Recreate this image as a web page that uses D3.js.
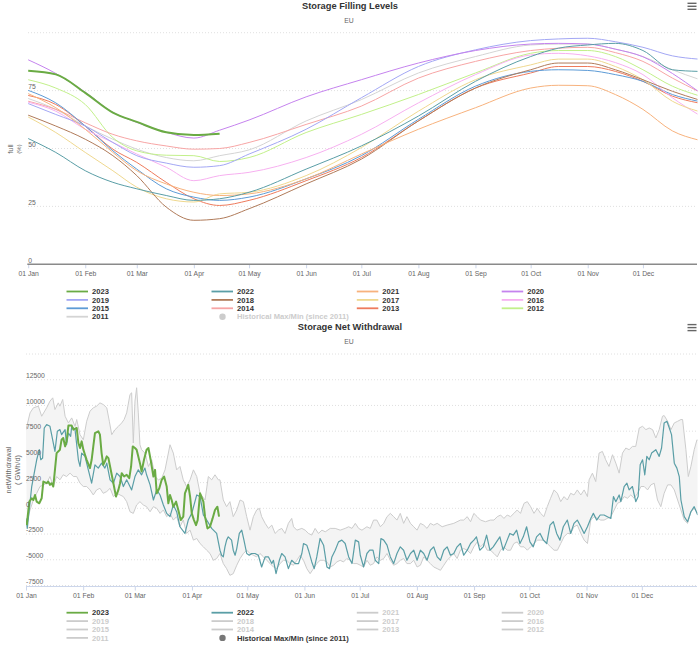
<!DOCTYPE html>
<html>
<head>
<meta charset="utf-8">
<script src="https://cdn.jsdelivr.net/npm/d3@7"></script>
<style>
  body { margin: 0; background: #fff; }
  svg { display: block; font-family: "Liberation Sans", Arial, sans-serif; }
</style>
</head>
<body>
<svg id="chart" width="700" height="645"></svg>
<script>
// ---- shared axis data ----
const monthTicks = [0, 31, 59, 90, 120, 151, 181, 212, 243, 273, 304, 334];
const monthLabels = ["01 Jan", "01 Feb", "01 Mar", "01 Apr", "01 May", "01 Jun",
  "01 Jul", "01 Aug", "01 Sep", "01 Oct", "01 Nov", "01 Dec"];
const legendYears = [2023, 2022, 2021, 2020, 2019, 2018, 2017, 2016, 2015, 2014, 2013, 2012, 2011];

// ---- Storage Filling Levels (% full), day of year ----
const fillTicks = [0, 25, 50, 75, 100];
const fillDays = [0, 15, 31, 46, 59, 75, 90, 104, 120, 151, 181, 212, 243, 273, 288, 304, 319, 334, 350, 364];
const fill2023 = [83.6, 82.0, 74.0, 65.5, 61.5, 57.0, 55.8, 56.4];
const fill2022 = [54.3, 48.3, 40.4, 35.4, 32.6, 29.7, 27.6, 28.3, 31.1, 41.1, 51.1, 64.0, 79.0, 89.7, 93.3, 94.7, 95.4, 92.3, 84.0, 83.3];
const fill2021 = [73.7, 67.6, 58.3, 48.3, 40.4, 34.7, 31.1, 29.7, 30.4, 36.9, 47.6, 58.3, 67.6, 76.1, 77.3, 77.1, 73.3, 66.9, 57.6, 53.7];
const fill2020 = [88.3, 82.4, 74.3, 65.6, 61.3, 57.0, 54.5, 57.9, 62.3, 72.3, 79.7, 86.9, 92.3, 95.1, 95.4, 95.1, 92.9, 89.6, 82.4, 74.7];
const fill2019 = [69.4, 64.7, 59.7, 52.6, 46.9, 43.7, 41.9, 42.6, 47.6, 58.3, 71.9, 85.4, 92.6, 96.6, 97.3, 97.6, 96.1, 93.7, 90.0, 88.6];
const fill2018 = [64.4, 59.7, 54.0, 46.9, 38.3, 24.7, 19.0, 19.7, 24.0, 34.7, 45.4, 61.9, 76.1, 84.0, 86.9, 86.9, 84.0, 79.7, 74.7, 71.1];
const fill2017 = [63.6, 56.9, 48.3, 40.4, 33.3, 28.3, 26.9, 30.4, 31.1, 38.3, 50.4, 66.1, 79.7, 86.1, 88.6, 88.6, 85.4, 79.7, 70.4, 66.1];
const fill2016 = [70.0, 66.1, 58.3, 52.6, 47.6, 41.9, 36.1, 38.3, 39.7, 46.1, 56.1, 69.7, 81.9, 90.4, 91.1, 90.0, 87.1, 81.9, 71.9, 64.7];
const fill2015 = [75.1, 69.7, 59.7, 49.0, 41.1, 32.6, 29.0, 27.6, 29.0, 36.9, 46.9, 62.6, 76.9, 83.3, 84.0, 83.7, 81.9, 79.0, 73.3, 70.4];
const fill2014 = [70.4, 66.9, 61.1, 56.1, 53.3, 51.1, 49.7, 50.0, 52.6, 60.4, 68.3, 80.4, 87.6, 92.3, 93.3, 93.7, 91.4, 87.6, 80.4, 74.7];
const fill2013 = [72.9, 69.0, 59.7, 49.7, 44.0, 35.4, 28.3, 25.4, 27.6, 36.1, 46.1, 61.9, 76.1, 82.6, 85.4, 85.4, 83.3, 79.0, 72.6, 69.7];
const fill2012 = [79.7, 76.1, 69.0, 54.7, 49.0, 47.1, 46.9, 44.4, 46.1, 56.9, 64.7, 73.3, 82.6, 91.1, 92.3, 92.3, 89.7, 84.0, 76.9, 72.9];
const fill2011 = [71.6, 66.9, 59.7, 54.0, 49.7, 46.1, 44.7, 46.9, 49.4, 61.9, 71.1, 82.6, 89.7, 94.7, 95.1, 95.1, 92.9, 89.7, 84.0, 80.0];

// ---- Storage Net Withdrawal (GWh/d), day of year ----
const netTicks = [-7500, -5000, -2500, 0, 2500, 5000, 7500, 10000, 12500, 15000];

const net2023Days = [0.4, 1.8, 3.1, 4, 4.9, 5.8, 7.2, 8.5, 9.4, 11.2,
  12.1, 13, 13.9, 14.8, 15.7, 16.6, 18.4, 19.3, 20.2, 21.2,
  22, 23, 24.8, 25.7, 27.5, 28.4, 29.3, 30.2, 31.1, 32,
  32.9, 34.7, 35.6, 36.5, 37.4, 39.2, 40.1, 41, 41.9, 42.8,
  43.8, 44.7, 45.6, 47.4, 48.8, 50.1, 51, 51.9, 53.2, 54.6,
  56, 57, 57.9, 59.1, 60, 61.8, 62.7, 64, 65.4, 66.4,
  67.6, 69.1, 70, 70.9, 72.3, 73.6, 74.9, 76.3, 77.2, 78.1,
  79, 79.9, 81.4, 82.6, 83.9, 85.3, 86.2, 88, 89, 89.9,
  91.1, 92.2, 93.1, 94.4, 96.2, 97.1, 98.4, 99.8, 101.2, 102.5,
  103.8, 104.7];
const net2023 = [-1630, 650, 980, 810, 1300, 650, 490, 980, 2600, 2440,
  2600, 2280, 2440, 2120, 3740, 5370, 5700, 6670, 6840, 6020,
  6510, 8040, 8040, 7650, 7810, 6350, 5860, 6510, 5700, 5210,
  4720, 3910, 4720, 6020, 7320, 7490, 7160, 5370, 4230, 4560,
  5050, 4880, 4070, 2440, 1140, 1790, 2440, 3420, 3090, 3260,
  2930, 4070, 6020, 5860, 5700, 4390, 3580, 4720, 5700, 5860,
  4720, 3090, 3740, 1460, 1950, 2770, 3090, 2120, 490, 1300,
  810, 160, 650, -160, -1140, -810, 1460, 2280, 1140, -490,
  -1140, -1630, -1140, 1460, 650, -810, -1950, -1790, -980, -160,
  160, -810];

const net2022Days = [0, 0.7, 3.1, 5.8, 7.2, 8, 9, 9.9, 11.2, 13,
  13.9, 15.7, 17, 18.4, 19.3, 21.2, 22, 23, 24.2, 24.8,
  26.6, 28.4, 29.3, 30.2, 32, 33.8, 35.6, 37.4, 39.2, 41,
  42.8, 43.8, 45.6, 47.4, 49.2, 51, 52.8, 54.6, 57.3, 59.1,
  60.9, 62.7, 64.5, 65.4, 67.3, 69.1, 70.9, 72.7, 74.5, 76.3,
  78.1, 79.9, 81.7, 83.5, 86.2, 88, 89.9, 92.6, 94.4, 96.2,
  98, 100.7, 103.4,
  105.2, 106.1, 107, 107.9, 108.8, 109.7, 111.5, 112.4, 113.4, 114.3,
  115.7, 117, 118.2, 119.7, 121.1, 122.4, 124.2, 126, 127.8, 129.7,
  131.5, 133.3, 134.2, 135.6, 137.4, 138.7, 140.5, 142.3, 144.1, 146,
  147.8, 149.6, 150.5, 152.3, 153.2, 155, 156.3, 157.7, 159.5, 161.4,
  163.2, 164.6, 165.9, 167.7, 169.5, 171.3, 173.1, 175, 176.8, 178.6,
  180.4, 181.3, 183.1, 184.9, 186.4, 188.2, 189.4, 191.3, 192.5, 194,
  195.8, 197.6, 199.4, 201.2, 203, 204.8, 206.6, 208.5, 210.3, 212.1,
  213.9, 215.7, 217.5, 219.3, 221.1, 223, 224.8, 226.6, 228.4, 230.2,
  232, 233.8, 235.6, 237.4, 239.3, 241.1, 242.9, 244.3, 246.1, 248,
  249.8, 251.6, 253.4, 255.2, 257, 258.8, 260.6, 262.4, 264.3, 266.1,
  267.9, 269.7, 271.5, 273.3, 275.1, 276.9, 278.8, 280.6, 282.4, 284.2,
  286, 287.8, 289.6, 291.4, 293.6, 295.4, 297.2, 299, 300.9, 302.7,
  304.5, 306.3, 307.7, 309.5, 311.4, 313.5, 315.3, 317.2, 318.6, 319.9,
  321.7, 322.6, 324.4, 325.9, 327.1, 328.9, 330.7, 332, 333.1, 334.4,
  335.6, 336.7, 338, 339.3, 341.6, 343.4, 344.7, 346.1, 347.6, 348.9,
  350.1, 351.6, 353, 354.3, 355.2, 357, 358.8, 360.6, 362.4, 364.3];
const net2022 = [-980, -1950, 2120, 4720, 5700, 4720, 4880, 7810, 8140, 7970,
  7160, 5530, 7490, 7650, 7160, 7650, 6180, 7320, 7000, 7970,
  7650, 4720, 4070, 5370, 5050, 3740, 2440, 4230, 3910, 4390,
  3910, 4390, 2770, 2440, 3420, 3090, 2120, 2770, 1790, 3090,
  3740, 3260, 3910, 3260, 2280, 810, 1790, 1300, 330, -490,
  -810, 330, -330, -1790, -2440, -1140, -490, 1300, 1140, -650,
  -1140, -1950, -2440,
  -4070, -4560, -4720, -3740, -3090, -2770, -3090, -4070, -4560, -3910,
  -2440, -2120, -3090, -4390, -4560, -4390, -4390, -4560, -5700, -4720,
  -4720, -5370, -5050, -6350, -5050, -4390, -4720, -5860, -5050, -5370,
  -5370, -4390, -3420, -3580, -4070, -5210, -5860, -4720, -2930, -3580,
  -5700, -5860, -4720, -4070, -3260, -3090, -3420, -4720, -5370, -3090,
  -3260, -4560, -5700, -4390, -4070, -4070, -5050, -5370, -2930, -3090,
  -3580, -4720, -5370, -4390, -3740, -4070, -5050, -4390, -4070, -5050,
  -4070, -4390, -5050, -4070, -3740, -4720, -5050, -4070, -3740, -4560,
  -4390, -3740, -3420, -4560, -4070, -3420, -3090, -2770, -4070, -3740,
  -2600, -4070, -3740, -3260, -2770, -4070, -3260, -2440, -2600, -2120,
  -3420, -2770, -1790, -3260, -3740, -2770, -2440, -3090, -3420, -1630,
  -1300, -2440, -3090, -1790, -1140, -2440, -1460, -1140, -1790, -2440,
  -1790, -980, -490, -1140, -650, -650, -810, -980, 1140, 650,
  1300, 650, 2120, 2440, 1790, 2120, 650, 1140, 4230, 4720,
  3260, 5050, 4720, 5370, 5700, 5050, 5860, 8300, 8460, 7810,
  7160, 4390, 3910, 3090, 810, -810, -1300, -330, 160, -650];

const netMaxDays = [0, 2.2, 4, 6.7, 8.5, 11.2, 13, 14.5, 15.7, 17.5,
  18.4, 19.9, 21.2, 23, 24.8, 26.6, 27.5, 29.3, 31.1, 32.9,
  34.7, 36.5, 38.3, 40.1, 41.9, 43.8, 45.2, 46.5, 48.3, 50.1,
  51.9, 53.2, 54.6, 56.4, 57.3, 58.2, 59.1, 60, 60.9, 61.8,
  62.7, 64.5, 66.4, 68.2, 70, 71.8, 73.6, 75.4, 78.1, 79.9,
  81.7, 83.5, 85.3, 87.1, 89, 90.8, 92.6, 94.4, 97.1, 98.9,
  100.7, 102.5, 104.3,
  105.2, 107, 108.8, 110.6, 112.4, 114.3, 116.1, 117.9, 119.7, 121.5,
  123.3, 125.1, 126.6, 127.8, 129.7, 131.5, 133.3, 135.1, 136.9, 138.7,
  140.5, 142.3, 144.1, 145.1, 146.9, 149.6, 151.4, 153.2, 155, 156.8,
  158.6, 160.5, 162.3, 165, 167.7, 170.4, 173.1, 175, 176.8, 178.6,
  180.4, 182.2, 184.9, 186.7, 188.5, 190.3, 192.2, 194, 195.8, 197.6,
  199.4, 201.2, 203, 204.8, 206.6, 208.5, 210.3, 212.1, 213.9, 215.7,
  217.5, 219.3, 221.1, 223, 225.7, 228.4, 232, 235.6, 237.4, 239.3,
  241.1, 242.9, 244.7, 246.5, 249.2, 251.9, 253.8, 255.6, 257.4, 259.2,
  261, 262.8, 264.6, 266.4, 268.2, 270.1, 271.9, 273.7, 275.5, 277.3,
  279.1, 280.9, 282.7, 284.5, 286.4, 288.2, 290, 291.8, 293.6, 295.4,
  297.2, 299, 300.9, 302.7, 304.5, 305.4, 307.2, 309, 310.8, 312.6,
  314.4, 316.2, 318.1, 319.9, 321.7, 323.5, 325.3, 327.1, 328.9, 330.7,
  332.6, 334.4, 336.2, 338, 339.8, 341.6, 343.4, 345.2, 346.1, 348,
  349.8, 351.6, 353.4, 355.2, 356.1, 357.9, 359.2, 360.6, 362.4, 363.9,
  365];
const netMax = [7650, 9280, 9770, 9930, 8950, 9770, 10420, 10740, 9600, 10250,
  9930, 10580, 8950, 8300, 8790, 7970, 8630, 7160, 6670, 8460,
  9440, 9770, 9930, 10250, 10090, 9770, 8460, 7160, 7650, 7970,
  8300, 8630, 9280, 11070, 11230, 6350, 10420, 11720, 9280, 6180,
  5700, 5370, 4070, 4720, 3090, 2770, 2930, 3740, 6180, 5370,
  3740, 4070, 2770, 2120, 2770, 3740, 3090, 1460, 810, 3090,
  2770, 3260, 2770,
  2770, 810, 160, 650, -810, -160, 810, 650, -810, -2120,
  -810, -160, 0, -810, -1460, -1950, -1630, -2440, -2120, -1950,
  -2440, -1460, -980, -1790, -2120, -1950, -2120, -2440, -2600, -1950,
  -2440, -2120, -2280, -1950, -1950, -2120, -1950, -1790, -1950, -1460,
  -1950, -2120, -1790, -1950, -1140, -1140, -1790, -1460, -810, -490,
  -810, -1140, -490, -1460, -810, -1460, -1790, -2120, -1460, -1630,
  -1950, -1460, -1630, -1460, -1790, -1630, -1460, -1140, -1140, -810,
  -1300, -490, -810, -1140, -1300, -1140, -1140, -810, -650, -980,
  -650, -810, -490, -160, -490, 490, 650, 160, -490, 0,
  -490, -810, 160, 980, 1790, 1460, 650, 1140, 810, 1460,
  1300, 1790, 1300, 1790, 1140, 2770, 3420, 2600, 5370, 5530,
  4720, 4070, 5210, 4390, 3420, 5370, 5860, 5700, 6020, 6020,
  7810, 7970, 7650, 7810, 7650, 6840, 7650, 8950, 9020, 8460,
  7650, 8300, 8460, 8630, 8630, 5700, 3090, 4070, 5700, 6670,
  6510];

const netMinDays = [0.4, 2.2, 4, 5.8, 7.6, 9.4, 11.2, 13, 14.8, 16.6,
  18.4, 20.2, 22, 23.9, 25.7, 27.5, 29.3, 31.1, 32.9, 34.7,
  36.5, 38.3, 40.1, 41.9, 43.8, 45.6, 47.4, 49.2, 51, 52.8,
  54.6, 56.4, 58.2, 60, 61.8, 63.6, 65.4, 67.3, 69.1, 70.9,
  72.7, 74.5, 76.3, 78.1, 79.9, 81.7, 83.5, 85.3, 87.1, 89,
  90.8, 92.6, 94.4, 96.2, 98, 99.8, 101.6, 103.4,
  105.2, 107, 108.8, 110.6, 112.4, 114.3, 116.1, 117.9, 119.7, 121.5,
  123.3, 125.1, 126.9, 128.8, 130.6, 132.4, 134.2, 136, 137.8, 139.6,
  141.4, 143.2, 145.1, 146.9, 148.7, 150.5, 152.3, 154.1, 155.9, 157.7,
  159.5, 161.4, 163.2, 165, 166.8, 168.6, 170.4, 172.2, 174, 175.9,
  177.7, 179.5, 181.3, 183.1, 184.9, 186.7, 188.5, 190.3, 192.2, 194,
  195.8, 197.6, 199.4, 201.2, 203, 204.8, 206.6, 208.5, 210.3, 212.1,
  213.9, 215.7, 217.5, 219.3, 221.1, 223, 224.8, 226.6, 228.4, 230.2,
  232, 233.8, 235.6, 237.4, 239.3, 241.1, 242.9, 244.7, 246.5, 248.3,
  250.1, 251.9, 253.8, 255.6, 257.4, 259.2, 261, 262.8, 264.6, 266.4,
  268.2, 270.1, 271.9, 273.7, 275.5, 277.3, 279.1, 280.9, 282.7, 284.5,
  286.4, 288.2, 290, 291.8, 293.6, 295.4, 297.2, 299, 300.9, 302.7,
  304.5, 306.3, 308.1, 309.9, 311.7, 313.5, 315.3, 317.2, 319, 320.8,
  322.6, 324.4, 326.2, 328, 329.8, 331.7, 333.5, 335.3, 337.1, 338.9,
  340.7, 342.5, 344.3, 346.1, 348, 349.8, 351.6, 353.4, 355.2, 357,
  358.8, 360.6, 362.4, 364.3];
const netMin = [-1460, -160, 810, 1460, 2120, 2280, 2440, 3090, 2120, 3090,
  2770, 3260, 3090, 3420, 3090, 3090, 2440, 2120, 2120, 1790,
  1300, 1790, 1950, 1460, 1630, 1950, 1140, 1460, 1300, 1140,
  650, -330, -490, 330, 650, 330, 160, -330, 160, 0,
  -490, -160, -810, -490, -1140, -810, -1790, -1140, -2440, -2120,
  -3090, -2930, -3420, -3740, -4070, -4390, -5050, -4880,
  -4390, -5370, -5860, -6510, -6350, -5530, -4880, -4390, -4070, -4390,
  -4560, -4720, -4390, -4720, -5050, -5370, -5700, -5860, -5370, -5050,
  -5050, -5370, -5530, -5050, -4560, -5050, -5860, -6350, -5860, -5370,
  -5050, -5050, -5210, -5700, -5530, -5210, -5050, -5210, -4880, -5050,
  -5370, -5370, -5530, -5700, -5050, -5530, -5370, -4720, -5050, -4880,
  -4390, -5050, -5530, -5370, -5050, -4880, -5370, -5370, -5050, -5700,
  -5530, -4720, -5050, -5370, -5700, -5860, -6020, -5530, -5050, -4720,
  -4390, -4880, -4070, -3910, -4070, -4390, -3740, -3260, -3740, -3420,
  -4070, -4070, -4390, -4720, -4070, -3740, -4070, -4070, -3420, -3260,
  -3740, -3740, -4070, -3740, -3420, -3090, -3090, -3090, -3420, -3740,
  -4070, -4070, -3420, -2770, -2440, -2440, -1790, -1630, -2440, -3090,
  -3420, -1140, -810, -980, -1140, -1140, -980, -810, -160, 490,
  650, 1140, 980, 1300, 980, 1460, 2120, 2120, 1790, 2280,
  2440, 810, 160, 1460, 2280, 2280, 1790, 810, -160, -1140,
  -1460, -330, 0, -490];

// ---- styling ----
const yearColors = {
  2023: "#6aab44", 2022: "#5a9ea6", 2021: "#f7b27d", 2020: "#c583ee",
  2019: "#a3a7f4", 2018: "#b07b5a", 2017: "#efd88f", 2016: "#f7b0f0",
  2015: "#5d9bd6", 2014: "#f7a5a5", 2013: "#ee7b5d", 2012: "#c2f08a",
  2011: "#d4d4d4"
};
const fillByYear = {
  2023: fill2023, 2022: fill2022, 2021: fill2021, 2020: fill2020, 2019: fill2019,
  2018: fill2018, 2017: fill2017, 2016: fill2016, 2015: fill2015, 2014: fill2014,
  2013: fill2013, 2012: fill2012, 2011: fill2011
};

const svg = d3.select("#chart");
const textColor = "#333333";
const labelColor = "#666666";

function menuIcon(y) {
  const g = svg.append("g").attr("stroke", "#666").attr("stroke-width", 1.4);
  [0, 3, 6].forEach(dy => {
    g.append("line").attr("x1", 687.5).attr("x2", 696.5)
      .attr("y1", y + dy).attr("y2", y + dy);
  });
}

function titles(title, y) {
  svg.append("text").attr("x", 350).attr("y", y).attr("text-anchor", "middle")
    .attr("font-size", 9.3).attr("font-weight", "bold").attr("fill", textColor)
    .text(title);
  svg.append("text").attr("x", 349).attr("y", y + 14.5).attr("text-anchor", "middle")
    .attr("font-size", 6.8).attr("fill", labelColor).text("EU");
}

function xAxis(scale, y, lineColor, lineWidth, x1, x2) {
  const axis = d3.axisBottom(scale)
    .tickValues(monthTicks)
    .tickFormat((d, i) => monthLabels[i])
    .tickSize(4).tickSizeOuter(0).tickPadding(2.5);
  const g = svg.append("g").attr("transform", `translate(0,${y})`).call(axis);
  g.select(".domain").remove();
  g.selectAll(".tick line").attr("stroke", "#ccd6eb");
  g.selectAll(".tick text").attr("fill", labelColor).attr("font-size", 6.8)
    .attr("font-family", "Liberation Sans, Arial, sans-serif");
  svg.append("line").attr("x1", x1).attr("x2", x2).attr("y1", y).attr("y2", y)
    .attr("stroke", lineColor).attr("stroke-width", lineWidth);
}

function yGrid(scale, ticks, x1, x2) {
  const g = svg.append("g");
  ticks.forEach(v => {
    g.append("line").attr("x1", x1).attr("x2", x2)
      .attr("y1", scale(v)).attr("y2", scale(v))
      .attr("stroke", "#d8d8d8").attr("stroke-width", 0.8)
      .attr("stroke-dasharray", "1,2");
  });
}

// labels are drawn after the series so they sit on top, as in the original
function yLabels(scale, labelled, labelX) {
  labelled.forEach(v => {
    svg.append("text").attr("x", labelX).attr("y", scale(v) - 1.8)
      .attr("font-size", 6.8).attr("fill", labelColor).text(v);
  });
}

function yTitle(lines, x0, cy) {
  lines.forEach((l, i) => {
    svg.append("text")
      .attr("transform", `translate(${x0 + i * 8.8},${cy}) rotate(-90)`)
      .attr("text-anchor", "middle").attr("font-size", l.size)
      .attr("fill", labelColor).text(l.text);
  });
}

function legend(y0, items) {
  const colX = [66.5, 211.5, 356.8, 501.7];
  const rowH = 8.4;
  items.forEach((it, i) => {
    const x = colX[i % 4];
    const y = y0 + Math.floor(i / 4) * rowH;
    if (it.circle) {
      svg.append("circle").attr("cx", x + 11).attr("cy", y).attr("r", 3.2)
        .attr("fill", it.active ? "#777" : "#cccccc");
    } else {
      svg.append("line").attr("x1", x).attr("x2", x + 21.5)
        .attr("y1", y).attr("y2", y)
        .attr("stroke", it.active ? it.color : "#cccccc").attr("stroke-width", 1.8);
    }
    svg.append("text").attr("x", x + 25.5).attr("y", y + 2.7)
      .attr("font-size", 7.6).attr("font-weight", "bold")
      .attr("fill", it.active ? textColor : "#cccccc").text(it.label);
  });
}

// ================= Top chart: Storage Filling Levels =================
const xTop = d3.scaleLinear().domain([0, 365]).range([28.2, 700]);
const yTop = d3.scaleLinear().domain([0, 100]).range([264.3, 32.7]);

titles("Storage Filling Levels", 8.6);
menuIcon(3.3);
yGrid(yTop, [25, 50, 75, 100], 28, 697);
yTitle([{ text: "full", size: 7.4 }, { text: "(%)", size: 6 }], 12.5, 149);

svg.append("clipPath").attr("id", "clipTop").append("rect")
  .attr("x", 28).attr("y", 20).attr("width", 669.5).attr("height", 250);

const topLine = d3.line()
  .x(d => xTop(d[0])).y(d => yTop(d[1]))
  .curve(d3.curveMonotoneX);

const gTop = svg.append("g").attr("clip-path", "url(#clipTop)");
legendYears.slice().reverse().forEach(yr => {
  gTop.append("path")
    .datum(d3.zip(fillDays, fillByYear[yr]))
    .attr("d", topLine)
    .attr("fill", "none")
    .attr("stroke", yearColors[yr])
    .attr("stroke-width", yr === 2023 ? 2 : 1)
    .attr("stroke-linejoin", "round");
});

xAxis(xTop, 264.3, "#8a8a8a", 1.4, 27.3, 697);
yLabels(yTop, [0, 25, 50, 75], 28.3);

legend(291.5, legendYears.map(yr => ({ label: yr, color: yearColors[yr], active: true }))
  .concat([{ label: "Historical Max/Min (since 2011)", circle: true, active: false }]));

// ================= Bottom chart: Storage Net Withdrawal =================
const xBot = d3.scaleLinear().domain([0, 365]).range([26, 699]);
const yBot = d3.scaleLinear().domain([-7500, 15000]).range([585.5, 354]);

titles("Storage Net Withdrawal", 329.6);
menuIcon(324.6);
yGrid(yBot, netTicks, 26, 697);
yTitle([{ text: "netWithdrawal", size: 7.4 }, { text: "( GWh/d)", size: 7.4 }], 11, 470);

svg.append("clipPath").attr("id", "clipBot").append("rect")
  .attr("x", 26).attr("y", 345).attr("width", 671.5).attr("height", 241);

const botLine = d3.line().x(d => xBot(d[0])).y(d => yBot(d[1]));
const maxPts = d3.zip(netMaxDays, netMax);
const minPts = d3.zip(netMinDays, netMin);

const gBot = svg.append("g").attr("clip-path", "url(#clipBot)");
gBot.append("path")
  .attr("d", botLine(maxPts) + "L" + botLine(minPts.slice().reverse()).slice(1) + "Z")
  .attr("fill", "#f4f4f4").attr("stroke", "none");
[maxPts, minPts].forEach(pts => {
  gBot.append("path").datum(pts).attr("d", botLine)
    .attr("fill", "none").attr("stroke", "#cccccc").attr("stroke-width", 1);
});
gBot.append("path").datum(d3.zip(net2022Days, net2022)).attr("d", botLine)
  .attr("fill", "none").attr("stroke", yearColors[2022]).attr("stroke-width", 1.2)
  .attr("stroke-linejoin", "round");
gBot.append("path").datum(d3.zip(net2023Days, net2023)).attr("d", botLine)
  .attr("fill", "none").attr("stroke", yearColors[2023]).attr("stroke-width", 2)
  .attr("stroke-linejoin", "round");

xAxis(xBot, 586.5, "#ccd6eb", 1, 26, 697);
yLabels(yBot, netTicks.slice(0, -1), 26);

legend(612.7, legendYears.map(yr => ({ label: yr, color: yearColors[yr], active: yr >= 2022 }))
  .concat([{ label: "Historical Max/Min (since 2011)", circle: true, active: true }]));
</script>
</body>
</html>
